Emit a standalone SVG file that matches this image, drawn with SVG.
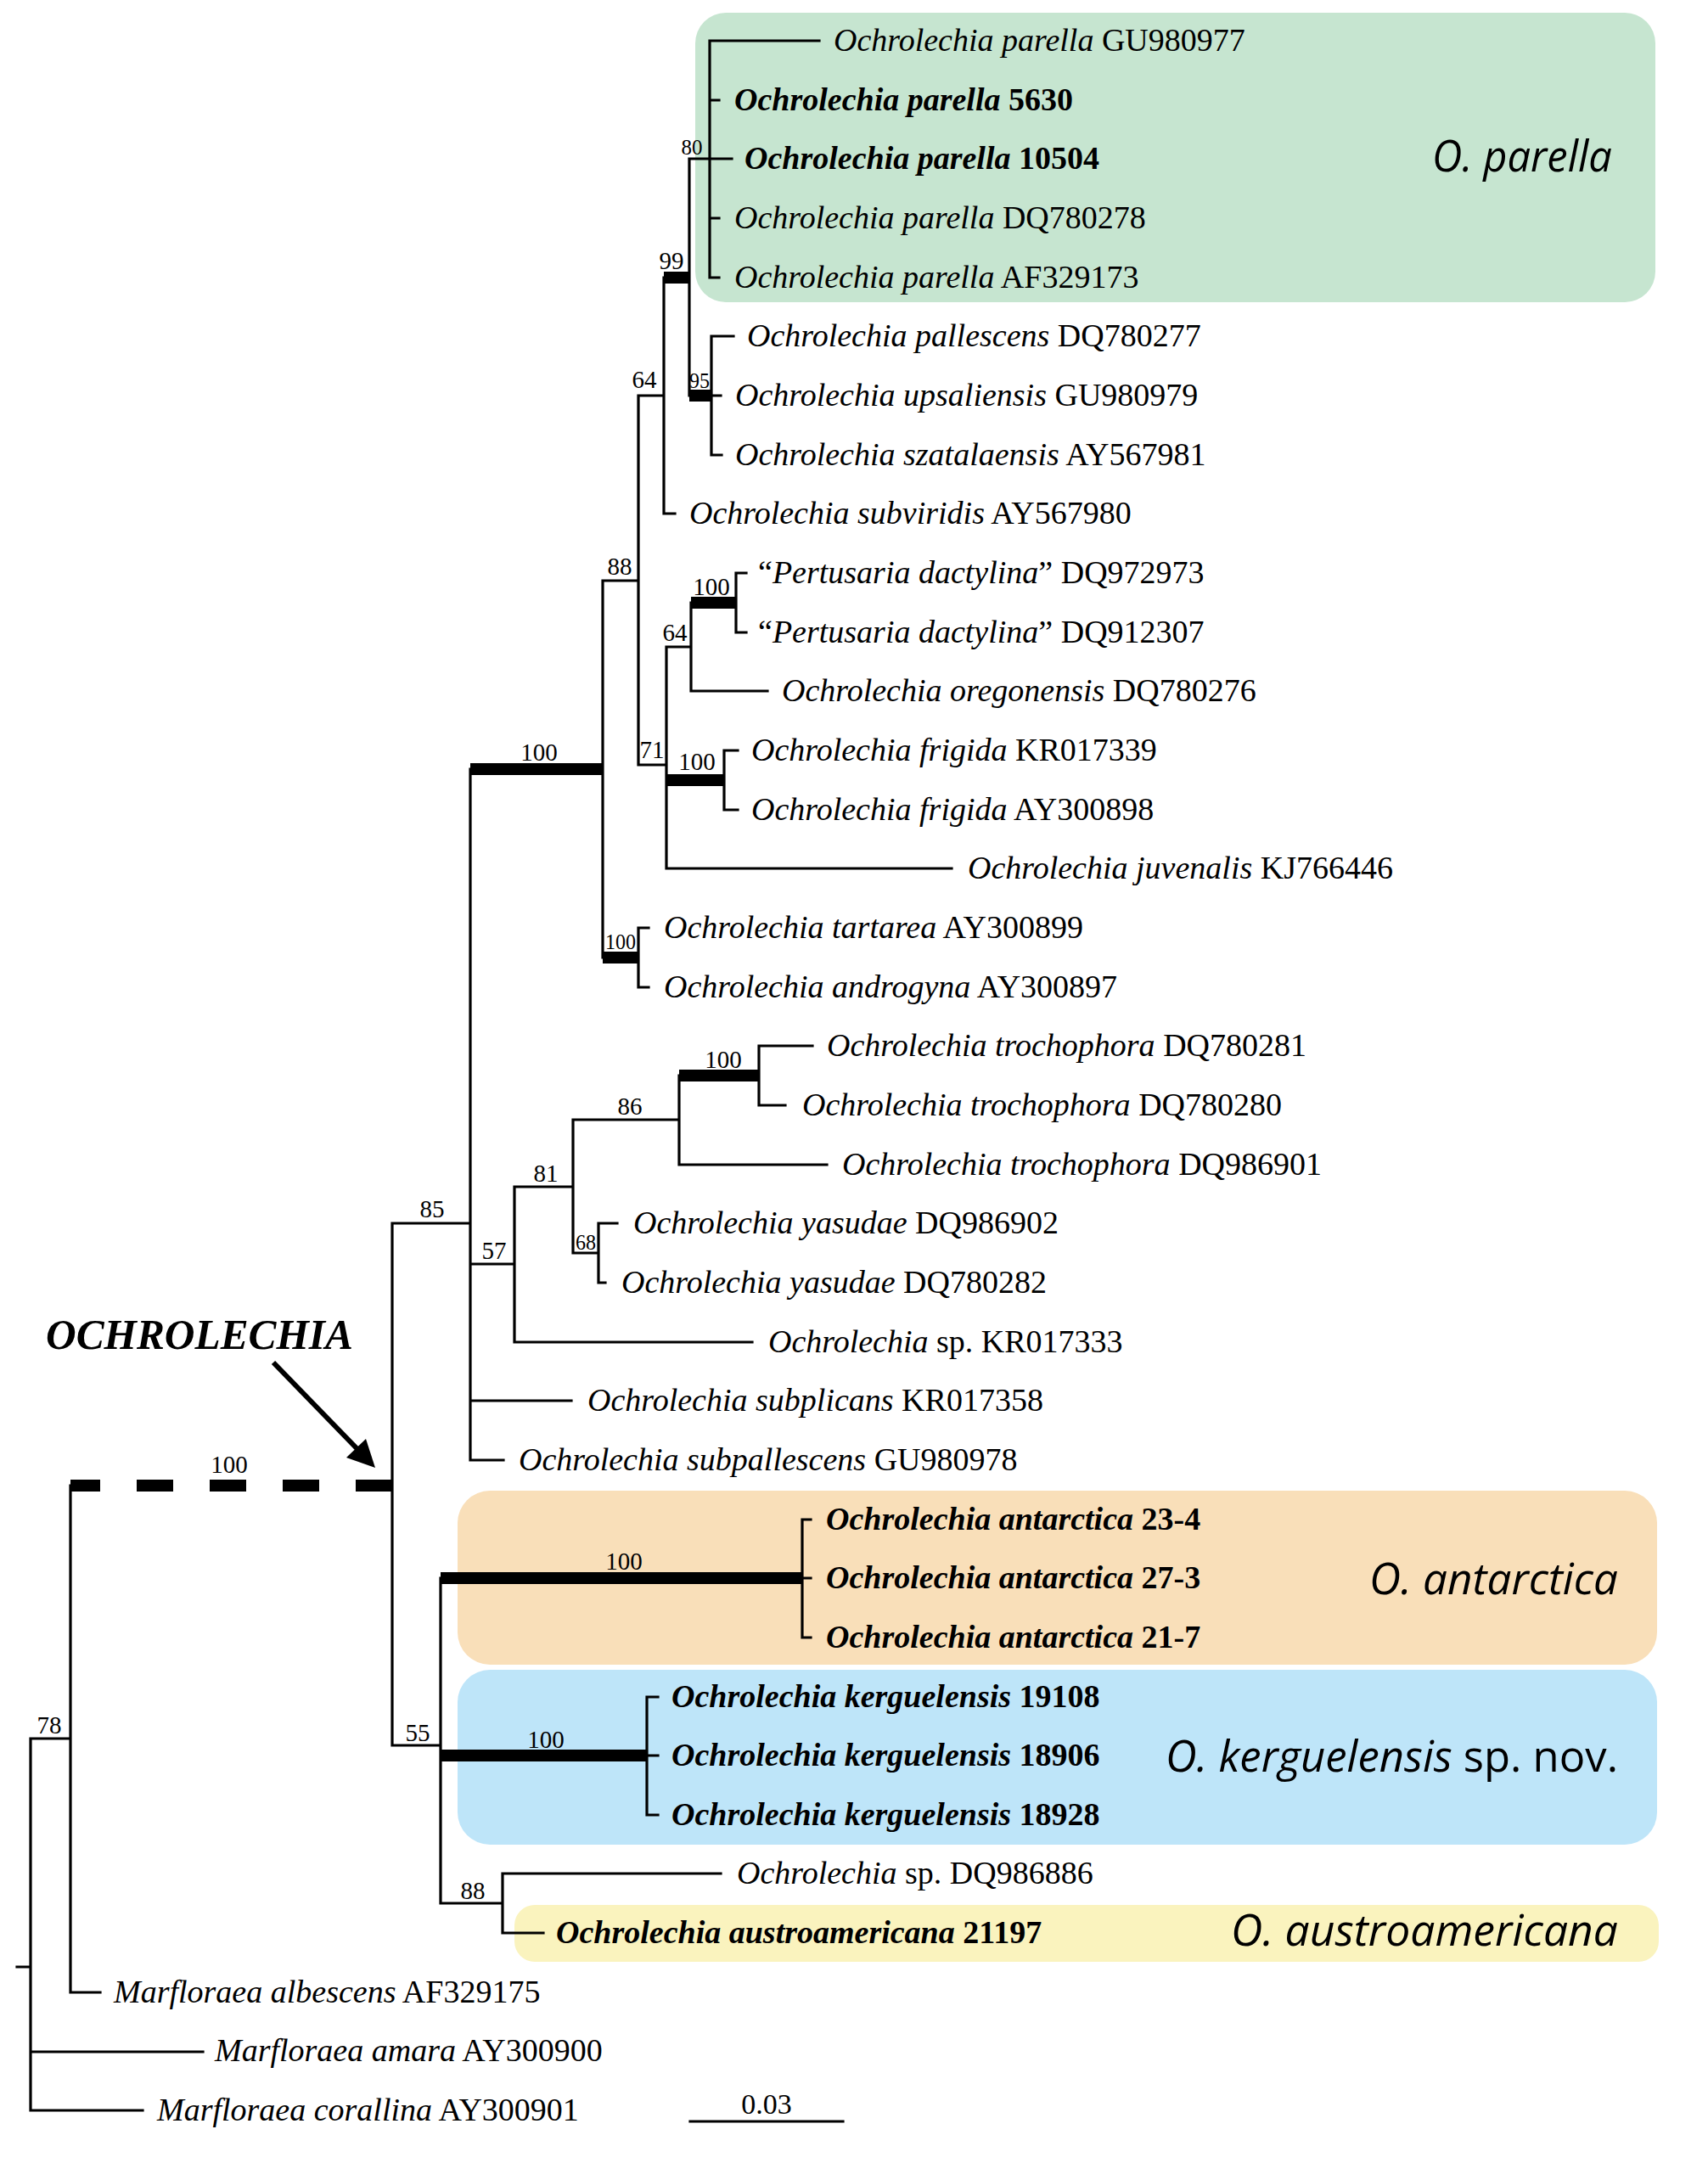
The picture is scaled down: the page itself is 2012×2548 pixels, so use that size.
<svg xmlns="http://www.w3.org/2000/svg" width="2012" height="2548" viewBox="0 0 2012 2548">
<style>
.lf{font-family:"Liberation Serif","Times New Roman",serif;font-size:38px;fill:#000}
.b{font-weight:bold}
.i{font-style:italic}
.sup{font-family:"Liberation Serif","Times New Roman",serif;font-size:29px;fill:#000;text-anchor:middle}
.sm{font-size:25px}
.clade{font-family:"Open Sans","Noto Sans","Liberation Sans",sans-serif;font-size:52px;fill:#000}
.br{fill:none;stroke:#000;stroke-width:3.2;stroke-linecap:square}
.tk{fill:#000}
</style>
<rect width="2012" height="2548" fill="#fff"/>
<g id="clade-boxes">
<rect id="box-parella" x="819" y="15" width="1131" height="341" rx="36" fill="#C6E5D0"/>
<rect id="box-antarctica" x="539" y="1756" width="1413" height="205" rx="38" fill="#F9DFB9"/>
<rect id="box-kerguelensis" x="539" y="1967" width="1413" height="206" rx="38" fill="#BEE5F9"/>
<rect id="box-austroamericana" x="606" y="2244" width="1348" height="67" rx="24" fill="#FAF3BE"/>
</g>
<g id="connectors">
<path class="br" d="M20 2317H36M36 2048V2486M36 2048H83M36 2417H239M36 2486H168
M83 1750V2347M83 2347H118
M462 1441V2056M462 1441H554M462 2056H519
M554 906V1720M554 1489H606M554 1650H673M554 1720H593
M606 1398V1581M606 1398H675M606 1581H886
M675 1319V1476M675 1319H800M675 1476H705
M705 1441V1511M705 1441H727M705 1511H713
M800 1267V1372M800 1372H974
M894 1232V1302M894 1232H957M894 1302H925
M710 684V1128M710 684H752
M752 1093V1163M752 1093H764M752 1163H764
M752 466V901M752 466H782M752 901H785
M782 327V605M782 605H795
M812 187V466M812 187H836
M836 48V327M836 48H965M836 118H847M836 187H862M836 257H847M836 327H847
M838 396V536M838 396H864M838 466H849M838 536H850
M785 762V1023M785 762H814M785 1023H1121
M814 710V814M814 814H904
M867 675V745M867 675H879M867 745H879
M853 884V954M853 884H869M853 954H869
M519 1859V2242M519 2242H592
M945 1790V1929M945 1790H955M945 1859H955M945 1929H955
M762 1999V2138M762 1999H775M762 2068H775M762 2138H775
M592 2207V2277M592 2207H849M592 2277H640"/>
<g id="thick-branches" class="tk">
<rect x="554" y="899" width="156" height="14"/>
<rect x="710" y="1121" width="42" height="14"/>
<rect x="782" y="320" width="30" height="14"/>
<rect x="812" y="459" width="26" height="14"/>
<rect x="814" y="703" width="53" height="14"/>
<rect x="785" y="912" width="68" height="14"/>
<rect x="800" y="1260" width="94" height="14"/>
<rect x="519" y="1852" width="426" height="14"/>
<rect x="519" y="2061" width="243" height="14"/>
</g>
<g id="dashed-branch" class="tk">
<rect x="83" y="1743" width="35" height="14"/>
<rect x="161" y="1743" width="43" height="14"/>
<rect x="247" y="1743" width="43" height="14"/>
<rect x="333" y="1743" width="43" height="14"/>
<rect x="419" y="1743" width="43" height="14"/>
</g>
<g id="arrow">
<line x1="322" y1="1605" x2="421" y2="1707" stroke="#000" stroke-width="6"/>
<polygon points="442,1729 408,1717 431,1695" fill="#000"/>
</g>
<path id="scale-bar" class="br" d="M813 2499H993"/>
</g>
<g id="support-values">
<text class="sup sm" x="815" y="182">80</text>
<text class="sup" x="791" y="317">99</text>
<text class="sup sm" x="824" y="457" textLength="24" lengthAdjust="spacingAndGlyphs">95</text>
<text class="sup" x="759" y="457">64</text>
<text class="sup" x="730" y="677">88</text>
<text class="sup" x="838" y="701">100</text>
<text class="sup" x="795" y="755">64</text>
<text class="sup" x="768" y="893">71</text>
<text class="sup" x="821" y="907">100</text>
<text class="sup" x="635" y="896">100</text>
<text class="sup sm" x="731" y="1118" textLength="36" lengthAdjust="spacingAndGlyphs">100</text>
<text class="sup" x="852" y="1258">100</text>
<text class="sup" x="742" y="1313">86</text>
<text class="sup" x="643" y="1392">81</text>
<text class="sup sm" x="690" y="1472" textLength="24" lengthAdjust="spacingAndGlyphs">68</text>
<text class="sup" x="582" y="1483">57</text>
<text class="sup" x="509" y="1434">85</text>
<text class="sup" x="270" y="1735">100</text>
<text class="sup" x="735" y="1849">100</text>
<text class="sup" x="643" y="2059">100</text>
<text class="sup" x="557" y="2237">88</text>
<text class="sup" x="492" y="2051">55</text>
<text class="sup" x="58" y="2042">78</text>
<text class="sup" x="903" y="2490" style="font-size:34px">0.03</text>
</g>
<g id="genus-label">
<text x="54" y="1589" font-family="Liberation Serif, serif" font-size="50" font-weight="bold" font-style="italic" textLength="362" lengthAdjust="spacingAndGlyphs">OCHROLECHIA</text>
</g>
<g id="leaves">
<g id="leaf-00"><text class="lf" x="982" y="60"><tspan class="i">Ochrolechia parella</tspan> GU980977</text></g>
<g id="leaf-01"><text class="lf b" x="865" y="130"><tspan class="i">Ochrolechia parella</tspan> 5630</text></g>
<g id="leaf-02"><text class="lf b" x="877" y="199"><tspan class="i">Ochrolechia parella</tspan> 10504</text></g>
<g id="leaf-03"><text class="lf" x="865" y="269"><tspan class="i">Ochrolechia parella</tspan> DQ780278</text></g>
<g id="leaf-04"><text class="lf" x="865" y="339"><tspan class="i">Ochrolechia parella</tspan> AF329173</text></g>
<g id="leaf-05"><text class="lf" x="880" y="408"><tspan class="i">Ochrolechia pallescens</tspan> DQ780277</text></g>
<g id="leaf-06"><text class="lf" x="866" y="478"><tspan class="i">Ochrolechia upsaliensis</tspan> GU980979</text></g>
<g id="leaf-07"><text class="lf" x="866" y="548"><tspan class="i">Ochrolechia szatalaensis</tspan> AY567981</text></g>
<g id="leaf-08"><text class="lf" x="812" y="617"><tspan class="i">Ochrolechia subviridis</tspan> AY567980</text></g>
<g id="leaf-09"><text class="lf" x="893" y="687">“<tspan class="i">Pertusaria dactylina</tspan>” DQ972973</text></g>
<g id="leaf-10"><text class="lf" x="893" y="757">“<tspan class="i">Pertusaria dactylina</tspan>” DQ912307</text></g>
<g id="leaf-11"><text class="lf" x="921" y="826"><tspan class="i">Ochrolechia oregonensis</tspan> DQ780276</text></g>
<g id="leaf-12"><text class="lf" x="885" y="896"><tspan class="i">Ochrolechia frigida</tspan> KR017339</text></g>
<g id="leaf-13"><text class="lf" x="885" y="966"><tspan class="i">Ochrolechia frigida</tspan> AY300898</text></g>
<g id="leaf-14"><text class="lf" x="1140" y="1035"><tspan class="i">Ochrolechia juvenalis</tspan> KJ766446</text></g>
<g id="leaf-15"><text class="lf" x="782" y="1105"><tspan class="i">Ochrolechia tartarea</tspan> AY300899</text></g>
<g id="leaf-16"><text class="lf" x="782" y="1175"><tspan class="i">Ochrolechia androgyna</tspan> AY300897</text></g>
<g id="leaf-17"><text class="lf" x="974" y="1244"><tspan class="i">Ochrolechia trochophora</tspan> DQ780281</text></g>
<g id="leaf-18"><text class="lf" x="945" y="1314"><tspan class="i">Ochrolechia trochophora</tspan> DQ780280</text></g>
<g id="leaf-19"><text class="lf" x="992" y="1384"><tspan class="i">Ochrolechia trochophora</tspan> DQ986901</text></g>
<g id="leaf-20"><text class="lf" x="746" y="1453"><tspan class="i">Ochrolechia yasudae</tspan> DQ986902</text></g>
<g id="leaf-21"><text class="lf" x="732" y="1523"><tspan class="i">Ochrolechia yasudae</tspan> DQ780282</text></g>
<g id="leaf-22"><text class="lf" x="905" y="1593"><tspan class="i">Ochrolechia</tspan> sp. KR017333</text></g>
<g id="leaf-23"><text class="lf" x="692" y="1662"><tspan class="i">Ochrolechia subplicans</tspan> KR017358</text></g>
<g id="leaf-24"><text class="lf" x="611" y="1732"><tspan class="i">Ochrolechia subpallescens</tspan> GU980978</text></g>
<g id="leaf-25"><text class="lf b" x="973" y="1802"><tspan class="i">Ochrolechia antarctica</tspan> 23-4</text></g>
<g id="leaf-26"><text class="lf b" x="973" y="1871"><tspan class="i">Ochrolechia antarctica</tspan> 27-3</text></g>
<g id="leaf-27"><text class="lf b" x="973" y="1941"><tspan class="i">Ochrolechia antarctica</tspan> 21-7</text></g>
<g id="leaf-28"><text class="lf b" x="791" y="2011"><tspan class="i">Ochrolechia kerguelensis</tspan> 19108</text></g>
<g id="leaf-29"><text class="lf b" x="791" y="2080"><tspan class="i">Ochrolechia kerguelensis</tspan> 18906</text></g>
<g id="leaf-30"><text class="lf b" x="791" y="2150"><tspan class="i">Ochrolechia kerguelensis</tspan> 18928</text></g>
<g id="leaf-31"><text class="lf" x="868" y="2219"><tspan class="i">Ochrolechia</tspan> sp. DQ986886</text></g>
<g id="leaf-32"><text class="lf b" x="655" y="2289"><tspan class="i">Ochrolechia austroamericana</tspan> 21197</text></g>
<g id="leaf-33"><text class="lf" x="134" y="2359"><tspan class="i">Marfloraea albescens</tspan> AF329175</text></g>
<g id="leaf-34"><text class="lf" x="253" y="2428"><tspan class="i">Marfloraea amara</tspan> AY300900</text></g>
<g id="leaf-35"><text class="lf" x="185" y="2498"><tspan class="i">Marfloraea corallina</tspan> AY300901</text></g>
</g>
<g id="clade-labels">
<text class="clade" x="1687" y="202" textLength="212" lengthAdjust="spacingAndGlyphs"><tspan class="i">O. parella</tspan></text>
<text class="clade" x="1613" y="1878" textLength="293" lengthAdjust="spacingAndGlyphs"><tspan class="i">O. antarctica</tspan></text>
<text class="clade" x="1373" y="2087" textLength="533" lengthAdjust="spacingAndGlyphs"><tspan class="i">O. kerguelensis</tspan> sp. nov.</text>
<text class="clade" x="1450" y="2292" textLength="456" lengthAdjust="spacingAndGlyphs"><tspan class="i">O. austroamericana</tspan></text>
</g>
</svg>
